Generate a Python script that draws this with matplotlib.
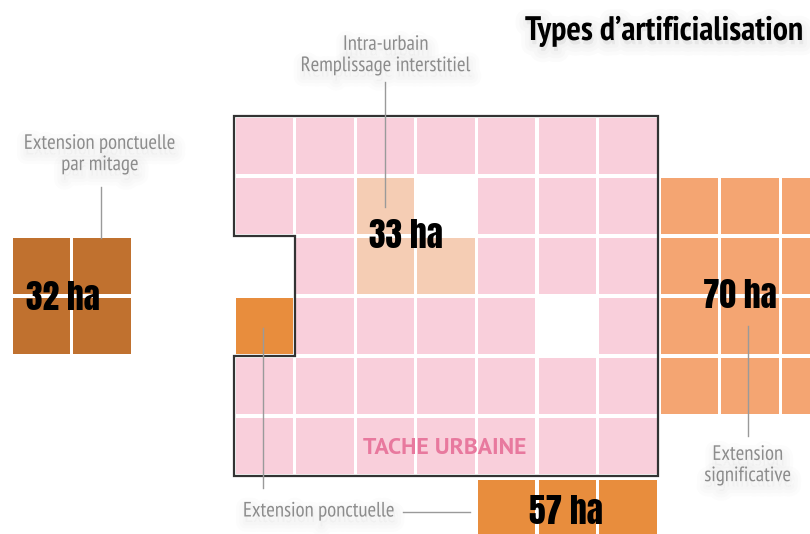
#!/usr/bin/env python3
"""Types d'artificialisation: tile diagram of the urban patch and its extensions."""

import matplotlib

matplotlib.use("Agg")
import matplotlib.patheffects as pe
import matplotlib.pyplot as plt
from matplotlib.patches import Polygon, Rectangle

# --- data -------------------------------------------------------------------
TITLE = "Types d\u2019artificialisation"
URBAN_LABEL = "TACHE URBAINE"
ZONE_LABELS = [
    "Extension ponctuelle\npar mitage",
    "Intra-urbain\nRemplissage interstitiel",
    "Extension\nsignificative",
    "Extension ponctuelle",
]
AREAS_HA = [32, 33, 70, 57]

# --- style ------------------------------------------------------------------
PINK = "#F9CFDB"
PEACH = "#F5CDB4"
ORANGE_LIGHT = "#F4A572"
ORANGE = "#E88D3D"
BROWN = "#C0712F"
GREY_TXT = "#8C8C8C"
GREY_LINE = "#9A9A9A"
NARROW = ["PT Sans Narrow", "DejaVu Sans"]
IMPACT = ["Anton", "DejaVu Sans"]
SANS = ["PT Sans", "Fira Sans", "DejaVu Sans"]

PX, PY = 60.6, 60.0          # tile pitch in pixels
GAP = 3.2                    # white gap between tiles
GX0, GY0 = 234, 116          # top-left of the urban patch grid


def soft_shadow(width, alpha, dy=-4):
    # a few wide, faint strokes below the glyphs stand in for a blurred shadow
    effects = [pe.Stroke(linewidth=w, foreground="black", alpha=alpha, offset=(1, dy))
               for w in (width, width * 0.66, width * 0.33)]
    return effects + [pe.Normal()]


def tile(ax, x, y, color):
    ax.add_patch(Rectangle((x + GAP / 2, y + GAP / 2), PX - GAP, PY - GAP,
                           facecolor=color, edgecolor="none", zorder=1))


def main() -> int:
    fig = plt.figure(figsize=(8.10, 5.34), dpi=100)
    ax = fig.add_axes([0, 0, 1, 1])
    ax.set_xlim(0, 810)
    ax.set_ylim(534, 0)
    ax.axis("off")

    # urban patch 7 x 6
    special = {(0, 2): None, (0, 3): ORANGE,
               (2, 1): PEACH, (2, 2): PEACH, (3, 2): PEACH,
               (3, 1): None, (5, 3): None}
    for r in range(6):
        for c in range(7):
            color = special.get((c, r), PINK)
            if color is not None:
                tile(ax, GX0 + c * PX, GY0 + r * PY, color)

    xr = GX0 + 7 * PX
    outline = [(GX0, GY0), (xr, GY0), (xr, GY0 + 6 * PY), (GX0, GY0 + 6 * PY),
               (GX0, GY0 + 4 * PY), (GX0 + PX, GY0 + 4 * PY),
               (GX0 + PX, GY0 + 2 * PY), (GX0, GY0 + 2 * PY)]
    ax.add_patch(Polygon(outline, closed=True, fill=False, edgecolor="#333333",
                         linewidth=1.6, zorder=3))

    # mitage block 2 x 2
    for r in range(2):
        for c in range(2):
            tile(ax, 11 + c * PX, GY0 + (2 + r) * PY, BROWN)

    # significant extension on the right
    for r in range(4):
        for c in range(4):
            tile(ax, xr + 1 + c * PX, GY0 + (1 + r) * PY, ORANGE_LIGHT)

    # extension below the patch
    for c in range(3):
        tile(ax, GX0 + (4 + c) * PX, GY0 + 6 * PY + 2, ORANGE)

    # leader lines
    lk = dict(color=GREY_LINE, linewidth=1.0, zorder=4)
    ax.plot([101, 101], [187, 238], **lk)
    ax.plot([385, 385], [82, 207], **lk)
    ax.plot([748, 748], [326, 436], **lk)
    ax.plot([263, 263], [328, 488], **lk)
    ax.plot([403, 470], [512, 512], **lk)

    # zone labels
    tk = dict(color=GREY_TXT, fontsize=15, family=NARROW, linespacing=1.15, zorder=5,
              path_effects=soft_shadow(14, 0.012))
    ax.text(100, 154, ZONE_LABELS[0], ha="center", va="center", **tk)
    ax.text(386, 55, ZONE_LABELS[1], ha="center", va="center", **tk)
    ax.text(748, 465, ZONE_LABELS[2], ha="center", va="center", **tk)
    ax.text(243, 511, ZONE_LABELS[3], ha="left", va="center", **tk)

    # areas
    hk = dict(color="black", fontsize=24, family=IMPACT,
              ha="center", va="center", zorder=6)
    ax.text(63, 297, f"{AREAS_HA[0]} ha", **hk)
    ax.text(406, 235, f"{AREAS_HA[1]} ha", **hk)
    ax.text(740, 296, f"{AREAS_HA[2]} ha", **hk)
    ax.text(566, 511, f"{AREAS_HA[3]} ha", **hk)

    ax.text(445, 448, URBAN_LABEL, color="#E8799E", fontsize=17, fontweight="bold",
            family=SANS, ha="center", va="center", zorder=5)

    ax.text(525, 31, TITLE, color="black", fontsize=24.5, fontweight="bold",
            family=NARROW, ha="left", va="center", zorder=6,
            path_effects=soft_shadow(16, 0.015, dy=-3))

    fig.savefig("out.png", dpi=100, facecolor="white")
    plt.close(fig)
    return 0


if __name__ == "__main__":
    raise SystemExit(main())
